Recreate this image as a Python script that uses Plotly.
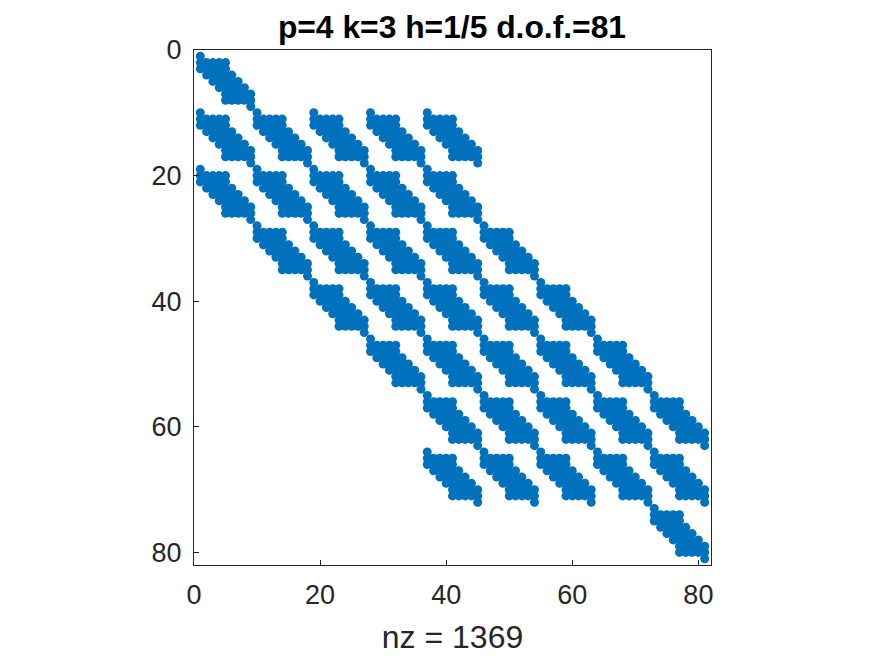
import plotly.graph_objects as go

# Columns occupied in each row of the 9x9 repeating pattern (same at block and cell level)
pattern_rows = [
    [1],
    [1, 2, 3, 4, 5],
    [1, 2, 3, 4, 5],
    [2, 3, 4, 5, 6],
    [3, 4, 5, 6, 7],
    [4, 5, 6, 7, 8],
    [5, 6, 7, 8, 9],
    [5, 6, 7, 8, 9],
    [9],
]
block_size = 9
tick_values = [0, 20, 40, 60, 80]
title_text = "<b>p=4 k=3 h=1/5 d.o.f.=81</b>"
xlabel_text = "nz = 1369"

xs, ys = [], []
for bi, bcols in enumerate(pattern_rows):
    for bj in bcols:
        for ci, ccols in enumerate(pattern_rows):
            for cj in ccols:
                ys.append(bi * block_size + ci + 1)
                xs.append((bj - 1) * block_size + cj)

fig = go.Figure(go.Scatter(
    x=xs, y=ys, mode="markers",
    marker=dict(color="#0072BD", size=9.0, line=dict(width=0)),
    cliponaxis=True, hoverinfo="skip",
))

axis = dict(
    tickmode="array", tickvals=tick_values, ticks="inside", ticklen=5, tickwidth=1,
    tickcolor="#262626", linecolor="#262626", linewidth=1.2, mirror=True,
    showline=True, showgrid=False, zeroline=False,
    tickfont=dict(family="Liberation Sans", size=27, color="#262626"),
)
fig.update_layout(
    width=875, height=656, autosize=False,
    paper_bgcolor="white", plot_bgcolor="white", showlegend=False,
    margin=dict(l=186.3, r=172, t=41.5, b=98.7),
    title=dict(text=title_text, x=0.5074, xanchor="center", y=0.971, yanchor="middle",
               font=dict(family="Liberation Sans", size=31.8, color="black")),
    xaxis=dict(axis, range=[0, 82], ticklabelstandoff=5,
               title=dict(text=xlabel_text, standoff=17,
                          font=dict(family="Liberation Sans", size=32, color="#262626"))),
    yaxis=dict(axis, range=[82, 0], ticklabelstandoff=6),
)
fig.write_html("out.html")
